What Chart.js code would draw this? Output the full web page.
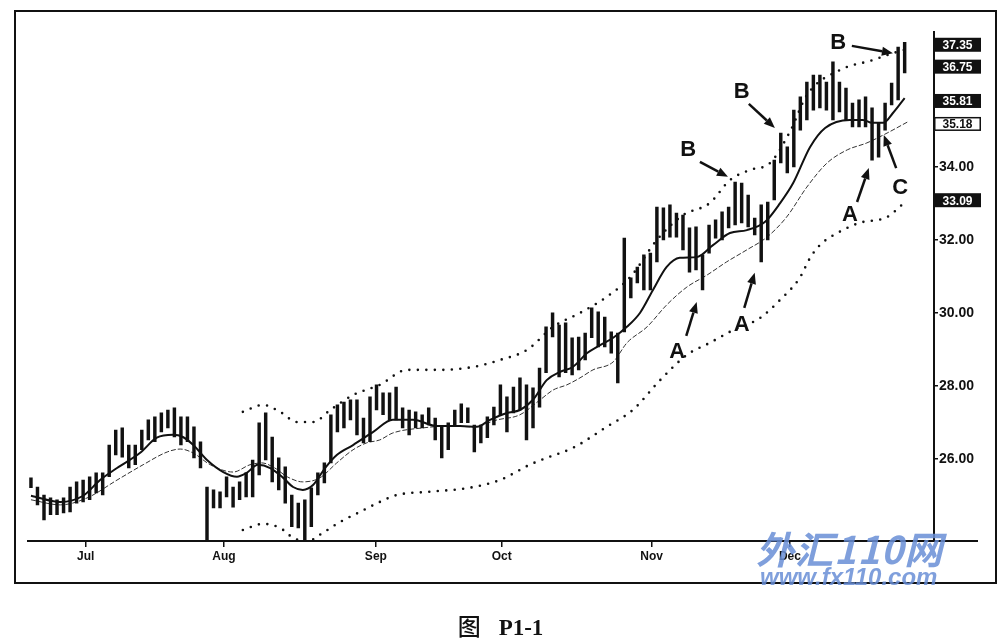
<!DOCTYPE html>
<html>
<head>
<meta charset="utf-8">
<script src="https://cdn.jsdelivr.net/npm/chart.js@4.4.0/dist/chart.umd.min.js"></script>
<style>
  html, body { margin: 0; padding: 0; background: #fff; }
  #wrap { position: relative; width: 1001px; height: 644px; overflow: hidden; }
  #c { position: absolute; left: 0; top: 0; }
  #frame { position: absolute; left: 14px; top: 10px; width: 979px; height: 570px; border: 2px solid #111; pointer-events: none; }
  .wm1 { position: absolute; left: 756px; top: 520px; font: italic 700 38px "Noto Sans CJK SC", sans-serif; color: rgba(104,142,214,0.85); letter-spacing: 1px; }
  .wm2 { position: absolute; left: 760px; top: 563px; font: italic 700 24px "Liberation Sans", Arial, sans-serif; color: rgba(104,142,214,0.85); }
  #caption { position: absolute; left: 0; width: 1001px; top: 608px; text-align: center; font: 700 23px "Liberation Serif", serif; color: #111; }
  #caption .cn { font-family: "Noto Sans CJK SC", sans-serif; font-weight: 500; margin-right: 18px; }
</style>
</head>
<body>
<div id="wrap">
  <canvas id="c" width="1001" height="644"></canvas>
  <div id="frame"></div>
  <div class="wm1">外汇110网</div>
  <div class="wm2">www.fx110.com</div>
  <div id="caption"><span class="cn">图</span>P1-1</div>
</div>
<script>
// barres journalières : plus haut / plus bas
const highs = [25.48,25.23,25.01,24.93,24.88,24.93,25.23,25.37,25.42,25.51,
  25.62,25.62,26.38,26.79,26.85,26.38,26.38,26.79,27.07,27.15,
  27.26,27.34,27.40,27.15,27.15,26.88,26.47,25.23,25.15,25.10,
  25.51,25.23,25.37,25.62,25.97,26.99,27.26,26.60,26.03,25.78,
  25.01,24.79,24.88,25.21,25.62,25.89,27.21,27.48,27.56,27.62,
  27.62,27.12,27.70,28.03,27.81,27.81,27.97,27.40,27.34,27.29,
  27.21,27.40,27.12,26.88,26.99,27.34,27.51,27.40,26.93,26.93,
  27.15,27.42,28.03,27.70,27.97,28.22,28.03,27.95,28.49,29.62,
  30.00,29.67,29.73,29.32,29.34,29.45,30.14,30.03,29.89,29.48,
  29.45,32.05,30.96,31.26,31.59,31.64,32.90,32.88,32.96,32.74,
  32.68,32.33,32.36,31.59,32.41,32.55,32.77,32.90,33.59,33.56,
  33.23,32.60,32.96,33.04,34.19,34.93,34.55,35.56,35.92,36.33,
  36.52,36.52,36.33,36.88,36.33,36.16,35.75,35.84,35.92,35.62,
  35.21,35.75,36.30,37.29,37.42];
const lows = [25.21,24.74,24.33,24.47,24.47,24.52,24.55,24.79,24.82,24.88,
  25.07,25.01,25.51,26.11,26.05,25.75,25.84,26.25,26.52,26.47,
  26.74,26.85,26.60,26.38,26.47,26.03,25.75,23.70,24.66,24.66,
  24.96,24.68,24.88,24.96,24.96,25.56,25.97,25.37,25.15,24.79,
  24.14,24.11,23.73,24.14,25.01,25.34,25.89,26.74,26.85,27.07,
  26.66,26.44,26.47,27.34,27.21,27.07,27.07,26.85,26.66,26.85,
  26.85,26.93,26.52,26.03,26.25,26.93,26.99,26.99,26.19,26.44,
  26.58,26.93,27.21,26.74,27.26,27.34,26.52,26.85,27.42,28.36,
  29.34,28.25,28.36,28.30,28.44,28.71,29.32,29.07,29.07,28.90,
  28.08,29.48,30.41,30.82,30.63,30.63,31.40,32.00,32.08,32.08,
  31.73,31.12,31.18,30.63,31.64,32.05,32.00,32.33,32.41,32.47,
  32.36,32.14,31.40,32.00,33.10,34.11,33.84,34.00,35.01,35.29,
  35.56,35.62,35.56,35.29,35.51,35.29,35.10,35.10,35.10,34.19,
  34.27,35.01,35.70,35.84,36.58];

// moyennes mobiles et enveloppes : [barre, prix]
const fastMa = [[0,24.99],[4.5,24.82],[8,24.99],[10.6,25.42],[13.2,25.75],[16.7,26.16],[19.3,26.58],[21.8,26.66],
  [23.3,26.60],[24.9,26.38],[27,25.97],[29.5,25.64],[31.6,25.51],[33.1,25.62],[34.8,25.84],[36.7,25.75],
  [38.7,25.48],[40.2,25.23],[41.7,25.15],[43.3,25.29],[45.1,25.75],[46.9,26.11],[49.4,26.38],[52.5,26.74],
  [55.5,27.07],[58.6,27.07],[62.3,26.90],[65.8,26.90],[68.4,26.88],[70.4,27.07],[73,27.26],[75,27.34],
  [77,27.62],[79.1,28.16],[81.1,28.38],[83.1,28.52],[85.3,28.90],[87.3,29.12],[89.3,29.32],[91.4,29.62],
  [93.4,30.00],[95.4,30.63],[97.5,31.26],[99.5,31.51],[102.1,31.53],[104.6,31.86],[107.2,32.19],[109.8,32.27],
  [112.6,32.50],[114.9,33.01],[116.9,33.56],[119.5,34.55],[121.8,35.07],[125.6,35.29],[127.6,35.29],[129,35.21],
  [130.7,35.21],[132.2,35.48],[134,35.89]];
const slowMa = [[0,24.88],[4.5,24.74],[8.6,24.93],[13.2,25.42],[17.2,25.84],[20.9,26.19],[22.9,26.27],[24.9,26.16],
  [27.5,25.84],[31,25.64],[33.6,25.84],[35.4,25.89],[37.4,25.75],[39.3,25.51],[41.7,25.37],[44.3,25.48],
  [46.9,25.89],[49.4,26.25],[51.5,26.44],[53.5,26.52],[55.5,26.71],[60.1,26.85],[64.3,26.90],[67.8,26.88],
  [71.5,27.07],[75,27.21],[78.1,27.62],[80.1,27.89],[82.2,28.03],[84.2,28.22],[86.2,28.44],[89.3,28.66],
  [91.4,29.18],[94.5,29.62],[97.5,30.22],[100.6,30.71],[103.7,31.04],[106.7,31.40],[109.8,31.73],[112.9,32.08],
  [115.9,32.63],[119,33.45],[122.1,34.11],[125.2,34.47],[128.2,34.66],[131.3,34.93],[134.4,35.23]];
const upperBand = [[32.5,27.29],[35.6,27.48],[38.2,27.29],[40.8,27.01],[43.3,27.01],[45.9,27.34],[49.4,27.75],
  [53.5,28.03],[57.7,28.44],[62.7,28.44],[67.8,28.52],[71.9,28.71],[76.1,28.99],[80.1,29.62],[84.2,30.00],
  [88.3,30.44],[92,31.0],[96,32.0],[100,32.68],[104.1,33.01],[107.2,33.64],[110.3,33.92],[113.3,34.1],
  [116.5,35.0],[119,35.97],[124.1,36.66],[129.1,36.93],[132.2,37.12],[134,37.21]];
const lowerBand = [[32.5,24.05],[35.6,24.22],[38.2,24.11],[40.2,23.84],[42.3,23.73],[44.3,23.92],[47.4,24.27],
  [50.5,24.55],[53.5,24.82],[56.1,25.01],[61.2,25.10],[67.3,25.21],[71.9,25.42],[76.5,25.84],[79.1,26.03],
  [83.1,26.30],[88.3,26.88],[92.3,27.34],[96.5,28.16],[100.6,28.85],[104.1,29.18],[107.7,29.53],[111.8,29.86],
  [114.9,30.36],[117.9,30.96],[119.5,31.51],[121,31.86],[124.5,32.27],[127.1,32.47],[131.3,32.63],[134.4,33.10]];

// axes
const monthNames = ['Jul','Aug','Sep','Oct','Nov','Dec'];
const monthPos = [8.4, 29.6, 52.9, 72.2, 95.2, 116.4];
const priceTicks = [26, 28, 30, 32, 34];
const lastValues = ['37.35','36.75','35.81','35.18','33.09'];

// annotations A / B / C
const noteText = ['B','B','B','A','A','A','C'];
const noteAt = [[123.8,37.40],[109,36.05],[100.8,34.47],[99.1,28.93],[109,29.67],[125.6,32.68],[133.3,33.42]];
const arrowFrom = [[125.9,37.32],[110.1,35.73],[102.6,34.14],[100.5,29.37],[109.4,30.14],[126.7,33.04],[132.7,33.97]];
const arrowTo = [[132.2,37.12],[114.1,35.07],[106.9,33.73],[102.1,30.30],[111.0,31.10],[128.5,33.97],[130.8,34.88]];

const toPts = arr => arr.map(p => ({ x: p[0], y: p[1] }));

function drawArrow(ctx, x1, y1, x2, y2) {
    const ang = Math.atan2(y2 - y1, x2 - x1);
    const len = 11, half = 4.5;
    const bx = x2 - Math.cos(ang) * len, by = y2 - Math.sin(ang) * len;
    ctx.beginPath();
    ctx.moveTo(x1, y1);
    ctx.lineTo(bx, by);
    ctx.stroke();
    ctx.beginPath();
    ctx.moveTo(x2, y2);
    ctx.lineTo(bx + Math.sin(ang) * half, by - Math.cos(ang) * half);
    ctx.lineTo(bx - Math.sin(ang) * half, by + Math.cos(ang) * half);
    ctx.closePath();
    ctx.fill();
}

const markupPlugin = {
    id: 'markup',
    afterDraw(chart) {
        const { ctx, chartArea, scales: { x, y } } = chart;
        ctx.save();
        // prolongement de l'axe des dates au-delà de l'échelle
        ctx.strokeStyle = '#111';
        ctx.lineWidth = 2;
        ctx.beginPath();
        ctx.moveTo(chartArea.right, chartArea.bottom);
        ctx.lineTo(chartArea.right + 44, chartArea.bottom);
        ctx.stroke();

        // lettres et flèches
        ctx.fillStyle = '#111';
        ctx.lineWidth = 2.5;
        ctx.font = 'bold 22px "Liberation Sans", Arial, sans-serif';
        ctx.textAlign = 'center';
        ctx.textBaseline = 'middle';
        noteText.forEach((t, i) => {
            ctx.fillText(t, x.getPixelForValue(noteAt[i][0]), y.getPixelForValue(noteAt[i][1]));
            drawArrow(ctx,
                x.getPixelForValue(arrowFrom[i][0]), y.getPixelForValue(arrowFrom[i][1]),
                x.getPixelForValue(arrowTo[i][0]), y.getPixelForValue(arrowTo[i][1]));
        });

        // étiquettes des dernières valeurs
        ctx.font = 'bold 12px "Liberation Sans", Arial, sans-serif';
        lastValues.forEach((v, i) => {
            const py = y.getPixelForValue(parseFloat(v));
            const bx = chartArea.right, bw = 47, bh = 14;
            if (i === 3) {
                ctx.fillStyle = '#fff';
                ctx.fillRect(bx, py - bh / 2, bw, bh);
                ctx.lineWidth = 1.5;
                ctx.strokeRect(bx + 0.75, py - bh / 2 + 0.75, bw - 1.5, bh - 1.5);
                ctx.fillStyle = '#111';
            } else {
                ctx.fillStyle = '#111';
                ctx.fillRect(bx, py - bh / 2, bw, bh);
                ctx.fillStyle = '#fff';
            }
            ctx.fillText(v, bx + bw / 2, py + 1);
        });
        ctx.restore();
    }
};

const ctx = document.getElementById('c').getContext('2d');
new Chart(ctx, {
    type: 'bar',
    data: {
        datasets: [
            {
                type: 'line',
                label: 'fast',
                data: toPts(fastMa),
                borderColor: '#111',
                borderWidth: 2,
                pointRadius: 0,
                cubicInterpolationMode: 'monotone',
                order: 2
            },
            {
                type: 'line',
                label: 'slow',
                data: toPts(slowMa),
                borderColor: '#333',
                borderWidth: 1,
                borderDash: [5, 2],
                pointRadius: 0,
                cubicInterpolationMode: 'monotone',
                order: 3
            },
            {
                type: 'line',
                label: 'upper',
                data: toPts(upperBand),
                borderColor: '#111',
                borderWidth: 2.6,
                borderDash: [0, 8.5],
                borderCapStyle: 'round',
                pointRadius: 0,
                cubicInterpolationMode: 'monotone',
                order: 4
            },
            {
                type: 'line',
                label: 'lower',
                data: toPts(lowerBand),
                borderColor: '#111',
                borderWidth: 2.6,
                borderDash: [0, 8.5],
                borderCapStyle: 'round',
                pointRadius: 0,
                cubicInterpolationMode: 'monotone',
                order: 5
            },
            {
                type: 'bar',
                label: 'range',
                data: highs.map((h, i) => ({ x: i, y: [lows[i], h] })),
                backgroundColor: '#111',
                barThickness: 2.8,
                order: 1
            }
        ]
    },
    options: {
        responsive: false,
        animation: false,
        devicePixelRatio: 1,
        layout: { padding: { left: 27.7, top: 32, right: 17, bottom: 78 } },
        plugins: {
            legend: { display: false },
            tooltip: { enabled: false }
        },
        scales: {
            x: {
                type: 'linear',
                offset: false,
                min: -0.5,
                max: 138.5,
                afterFit: s => { s.height = 25; },
                afterBuildTicks: s => { s.ticks = monthPos.map(v => ({ value: v })); },
                ticks: {
                    autoSkip: false,
                    maxRotation: 0,
                    padding: 2,
                    color: '#111',
                    font: { family: '"Liberation Sans", Arial, sans-serif', size: 12, weight: 'bold' },
                    callback: (v, i) => monthNames[i]
                },
                grid: { drawOnChartArea: false, offset: false, tickLength: 6, color: '#111', lineWidth: 1.5 },
                border: { display: true, color: '#111', width: 2 }
            },
            y: {
                position: 'right',
                min: 23.75,
                max: 37.7,
                afterFit: s => { s.width = 50; },
                afterBuildTicks: s => { s.ticks = priceTicks.map(v => ({ value: v })); },
                ticks: {
                    padding: 1,
                    color: '#111',
                    font: { family: '"Liberation Sans", Arial, sans-serif', size: 14, weight: 'bold' },
                    callback: v => v.toFixed(2)
                },
                grid: { drawOnChartArea: false, tickLength: 4, color: '#111', lineWidth: 1.5 },
                border: { display: true, color: '#111', width: 2 }
            }
        }
    },
    plugins: [markupPlugin]
});
</script>
</body>
</html>
